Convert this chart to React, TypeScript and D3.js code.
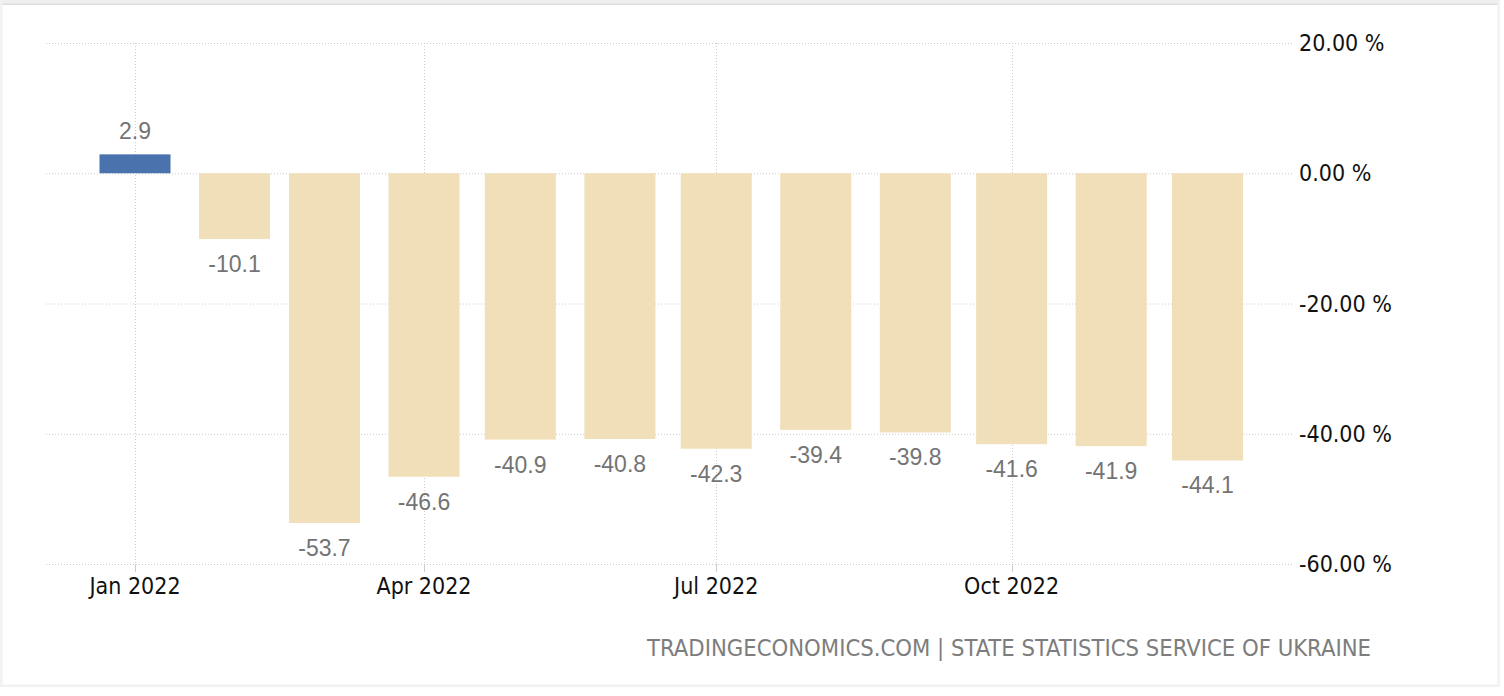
import React from "react";
import * as d3 from "d3";

const months = ["2022-01", "2022-02", "2022-03", "2022-04", "2022-05", "2022-06", "2022-07", "2022-08", "2022-09", "2022-10", "2022-11", "2022-12"];
const values = [2.9, -10.1, -53.7, -46.6, -40.9, -40.8, -42.3, -39.4, -39.8, -41.6, -41.9, -44.1];
const yTicks = [20, 0, -20, -40, -60];
const xTickMonths = ["2022-01", "2022-04", "2022-07", "2022-10"];
const sourceText = "TRADINGECONOMICS.COM | STATE STATISTICS SERVICE OF UKRAINE";

const W = 1504;
const H = 696;
const plotLeft = 46;
const plotRight = 1294;
const parse = (s: string) => new Date(s + "-01T00:00:00Z");

export default function App() {
  const x = d3.scaleUtc().domain([parse("2022-01"), parse("2022-12")]).range([135, 1207.5]);
  const y = d3.scaleLinear().domain([-60, 20]).range([564, 43]);
  const barW = 71;
  const fmtTick = d3.utcFormat("%b %Y");
  const axisFont = "'DejaVu Sans Condensed', 'DejaVu Sans', sans-serif";
  const labelFont = "'Liberation Sans', Arial, sans-serif";

  return (
    <svg width={W} height={H} style={{ position: "absolute", left: 0, top: 0, background: "#fff" }}>
      {/* frame */}
      <rect x={0} y={0} width={1500} height={4} fill="#eeeeee" />
      <rect x={0} y={3.5} width={1500} height={1.5} fill="#dedede" />
      <rect x={0} y={0} width={2.5} height={687} fill="#f2f2f2" />
      <rect x={1497.5} y={0} width={2.5} height={687} fill="#f2f2f2" />
      <rect x={0} y={684.5} width={1500} height={2.5} fill="#f2f2f2" />

      {/* horizontal grid */}
      {yTicks.map((t) => (
        <line key={"h" + t} x1={plotLeft} x2={plotRight} y1={y(t) + 0.5} y2={y(t) + 0.5} stroke="#cccccc" strokeWidth={1} strokeDasharray="1,2" />
      ))}
      {/* vertical grid + ticks */}
      {xTickMonths.map((m) => {
        const xv = Math.round(x(parse(m))) + 0.5;
        return (
          <g key={"v" + m}>
            <line x1={xv} x2={xv} y1={y(20)} y2={y(-60)} stroke="#cccccc" strokeWidth={1} strokeDasharray="1,2" />
            <line x1={xv} x2={xv} y1={y(-60)} y2={y(-60) + 8} stroke="#cccccc" strokeWidth={1} />
          </g>
        );
      })}

      {/* bars */}
      {values.map((v, i) => {
        const cx = x(parse(months[i]));
        const top = y(Math.max(0, v));
        const bottom = y(Math.min(0, v));
        return (
          <rect key={"b" + i} x={cx - barW / 2} y={top} width={barW} height={bottom - top} fill={i === 0 ? "#4a72ac" : "#f0dfb9"} />
        );
      })}

      {/* value labels */}
      {values.map((v, i) => {
        const cx = x(parse(months[i]));
        const ly = v >= 0 ? y(v) - 15 : y(v) + 33;
        return (
          <text key={"l" + i} x={cx} y={ly} textAnchor="middle" fontFamily={labelFont} fontSize={23} fill="#747474">
            {v.toFixed(1)}
          </text>
        );
      })}

      {/* y axis labels */}
      {yTicks.map((t) => (
        <text key={"yl" + t} x={1299} y={y(t) + 8} fontFamily={axisFont} fontSize={23} fill="#111">
          {t.toFixed(2) + " %"}
        </text>
      ))}

      {/* x axis labels */}
      {xTickMonths.map((m) => (
        <text key={"xl" + m} x={x(parse(m))} y={594} textAnchor="middle" fontFamily={axisFont} fontSize={23} fill="#111">
          {fmtTick(parse(m))}
        </text>
      ))}

      {/* source */}
      <text x={647} y={656} fontFamily={axisFont} fontSize={23} fill="#7d7d7d" textLength={724} lengthAdjust="spacingAndGlyphs">
        {sourceText}
      </text>
    </svg>
  );
}
